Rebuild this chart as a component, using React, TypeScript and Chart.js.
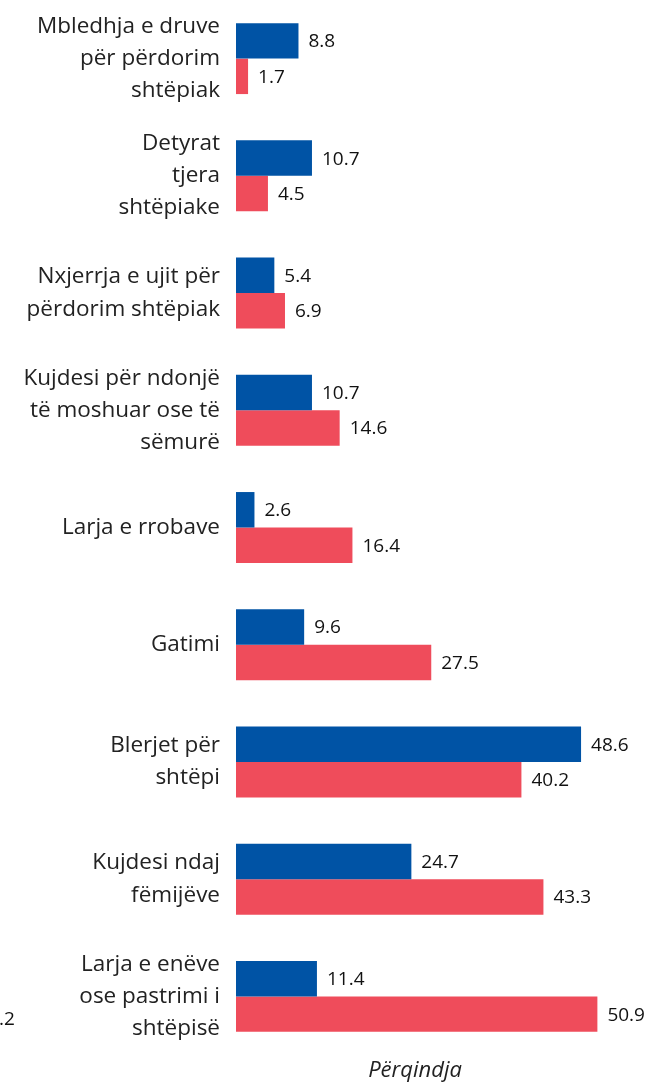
import React, { useEffect, useRef } from "react";
import { Chart, registerables } from "chart.js";

Chart.register(...registerables);

const categories: string[][] = [
  ["Mbledhja e druve", "për përdorim", "shtëpiak"],
  ["Detyrat", "tjera", "shtëpiake"],
  ["Nxjerrja e ujit për", "përdorim shtëpiak"],
  ["Kujdesi për ndonjë", "të moshuar ose të", "sëmurë"],
  ["Larja e rrobave"],
  ["Gatimi"],
  ["Blerjet për", "shtëpi"],
  ["Kujdesi ndaj", "fëmijëve"],
  ["Larja e enëve", "ose pastrimi i", "shtëpisë"],
];

const blueValues = [8.8, 10.7, 5.4, 10.7, 2.6, 9.6, 48.6, 24.7, 11.4];
const redValues = [1.7, 4.5, 6.9, 14.6, 16.4, 27.5, 40.2, 43.3, 50.9];

const axisTitle = "Përqindja";
const strayLabel = ".2";

const BLUE = "#0053A5";
const RED = "#EF4C5B";

const valueLabels = {
  id: "valueLabels",
  afterDatasetsDraw(chart: any) {
    const ctx = chart.ctx;
    ctx.save();
    ctx.font = "19px 'Open Sans'";
    ctx.fillStyle = "#111";
    ctx.textBaseline = "middle";
    ctx.textAlign = "left";
    chart.data.datasets.forEach((ds: any, i: number) => {
      const meta = chart.getDatasetMeta(i);
      meta.data.forEach((bar: any, j: number) => {
        ctx.fillText(String(ds.data[j].toFixed(1)), bar.x + 10, bar.y + 1);
      });
    });
    ctx.font = "italic 22px 'Open Sans'";
    ctx.textAlign = "center";
    ctx.fillStyle = "#222";
    ctx.fillText(axisTitle, 415, 1071);
    ctx.font = "19px 'Open Sans'";
    ctx.textAlign = "left";
    ctx.fillStyle = "#111";
    ctx.fillText(strayLabel, -1, 1020);
    ctx.restore();
  },
};

export default function App() {
  const ref = useRef<HTMLCanvasElement>(null);
  useEffect(() => {
    if (!ref.current) return;
    const chart = new Chart(ref.current, {
      type: "bar",
      data: {
        labels: categories,
        datasets: [
          {
            data: blueValues,
            backgroundColor: BLUE,
            categoryPercentage: 0.605,
            barPercentage: 1.0,
          },
          {
            data: redValues,
            backgroundColor: RED,
            categoryPercentage: 0.605,
            barPercentage: 1.0,
          },
        ],
      },
      options: {
        indexAxis: "y",
        animation: false,
        responsive: false,
        maintainAspectRatio: false,
        layout: { padding: { top: 0, bottom: 29, left: 0, right: 1 } },
        plugins: { legend: { display: false }, tooltip: { enabled: false } },
        scales: {
          x: {
            display: false,
            min: 0,
            max: 60,
          },
          y: {
            afterFit: (scale: any) => {
              scale.width = 236;
              scale.paddingTop = 0;
              scale.paddingBottom = 0;
            },
            grid: { display: false, drawTicks: false },
            border: { display: false },
            ticks: {
              padding: 16,
              color: "#222",
              font: { family: "'Open Sans'", size: 22.5, lineHeight: 1.43 },
            },
          },
        },
      },
      plugins: [valueLabels],
    });
    return () => chart.destroy();
  }, []);
  return (
    <div style={{ position: "absolute", left: 0, top: 0, width: 663, height: 1084 }}>
      <canvas ref={ref} width={663} height={1084} style={{ width: 663, height: 1084 }} />
    </div>
  );
}
